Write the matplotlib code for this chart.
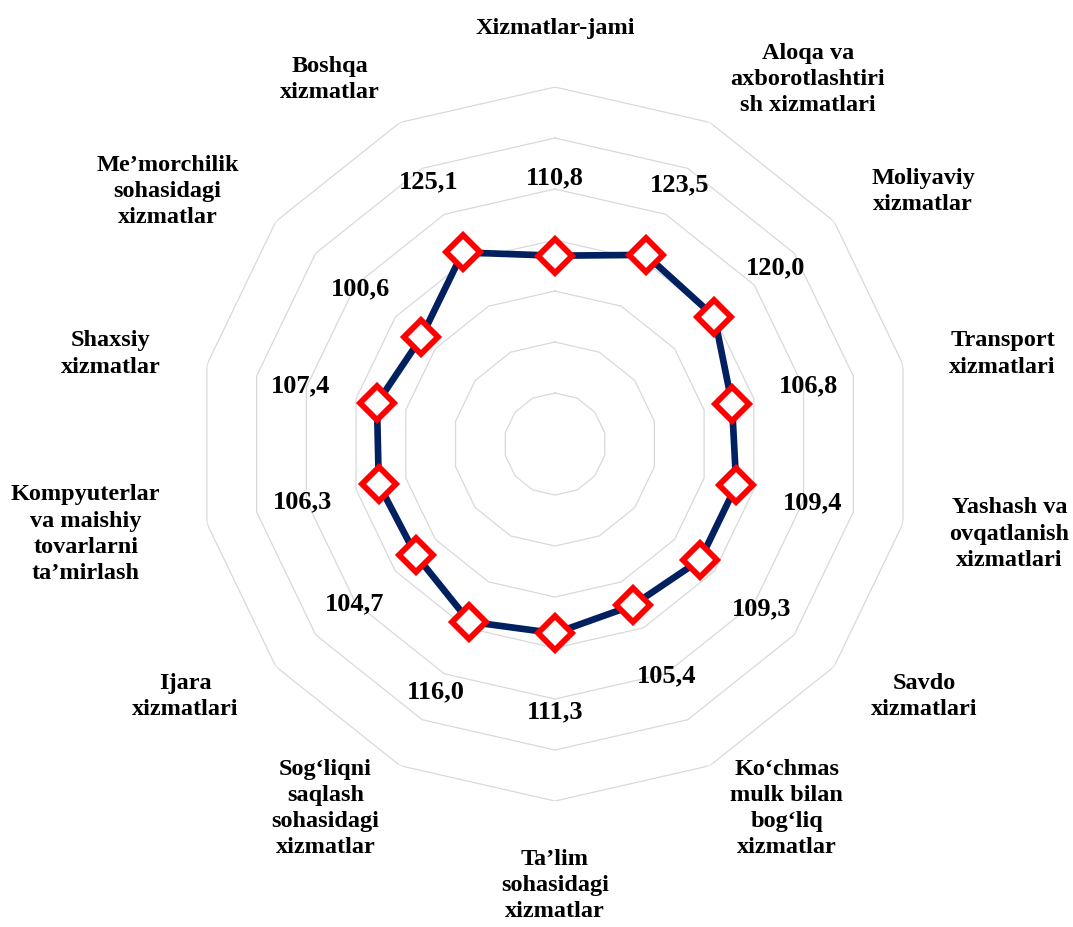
import numpy as np
import matplotlib
matplotlib.use('Agg')
import matplotlib.pyplot as plt

# categories clockwise from the top
categories = [
    'Xizmatlar-jami',
    'Aloqa va\naxborotlashtiri\nsh xizmatlari',
    'Moliyaviy\nxizmatlar',
    'Transport\nxizmatlari',
    'Yashash va\novqatlanish\nxizmatlari',
    'Savdo\nxizmatlari',
    'Ko\u2018chmas\nmulk bilan\nbog\u2018liq\nxizmatlar',
    'Ta\u2019lim\nsohasidagi\nxizmatlar',
    'Sog\u2018liqni\nsaqlash\nsohasidagi\nxizmatlar',
    'Ijara\nxizmatlari',
    'Kompyuterlar\nva maishiy\ntovarlarni\nta\u2019mirlash',
    'Shaxsiy\nxizmatlar',
    'Me\u2019morchilik\nsohasidagi\nxizmatlar',
    'Boshqa\nxizmatlar',
]
values = [110.8, 123.5, 120.0, 106.8, 109.4, 109.3, 105.4,
          111.3, 116.0, 104.7, 106.3, 107.4, 100.6, 125.1]
ring_values = [30, 60, 90, 120, 150, 180, 210]

plt.rcParams['font.family'] = ['Liberation Serif', 'DejaVu Serif']

n = len(categories)
angles = np.arange(n) * 2 * np.pi / n

fig = plt.figure(figsize=(10.73, 9.27), dpi=100)
ax = fig.add_axes([0.1845, 0.1359, 0.6654, 0.7702], projection='polar')
ax.set_theta_zero_location('N')
ax.set_theta_direction(-1)
ax.set_ylim(0, ring_values[-1])
ax.grid(False)
ax.set_xticks([])
ax.set_yticks([])
ax.spines['polar'].set_visible(False)

# polygon grid
ang_c = np.append(angles, angles[0])
for rv in ring_values:
    ax.plot(ang_c, [rv] * (n + 1), color='#d9d9d9', lw=0.9, zorder=1)

# series
vals_c = np.append(values, values[0])
ax.plot(ang_c, vals_c, color='#002060', lw=4.8, zorder=3)
ax.plot(angles, values, ls='none', marker='D', ms=17, mfc='white',
        mec='#ff0000', mew=4.2, zorder=4)

# data labels
for a, v in zip(angles, values):
    ax.text(a, v + 46, f'{v:.1f}'.replace('.', ','), ha='center', va='center',
            fontsize=19, fontweight='bold', color='black', zorder=5)

# category labels: left/right aligned on the sides, centred top and bottom
for a, name in zip(angles, categories):
    s = np.sin(a)
    if abs(s) < 1e-6:
        ha = 'center'
        va = 'bottom' if np.cos(a) > 0 else 'top'
    else:
        ha = 'left' if s > 0 else 'right'
        va = 'center'
    ax.text(a, 238, name, ha=ha, va=va, multialignment='center',
            fontsize=17.5, fontweight='bold', linespacing=1.32, clip_on=False)

fig.savefig('out.png', dpi=100, facecolor='white')
